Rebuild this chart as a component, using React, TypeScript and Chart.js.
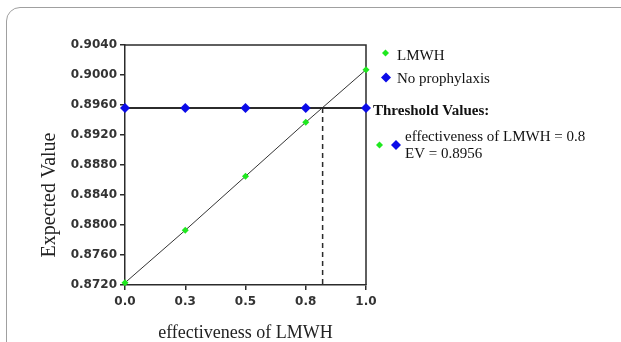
import React, { useEffect, useRef } from "react";
import { Chart, registerables } from "chart.js";

Chart.register(...registerables);

// ---- data ----
const effectiveness = [0, 0.25, 0.5, 0.75, 1.0];
const lmwhEV = [0.8723, 0.8793, 0.8865, 0.8937, 0.9007];
const noProphylaxisEV = [0.8956, 0.8956, 0.8956, 0.8956, 0.8956];
const thresholdEffectiveness = 0.82;
const thresholdEV = 0.8956;
const xTickValues = [0, 0.25, 0.5, 0.75, 1.0];
const xTickLabels = ["0.0", "0.3", "0.5", "0.8", "1.0"];
const yTickValues = [0.872, 0.876, 0.88, 0.884, 0.888, 0.892, 0.896, 0.9, 0.904];
const yTickLabels = ["0.8720", "0.8760", "0.8800", "0.8840", "0.8880", "0.8920", "0.8960", "0.9000", "0.9040"];
const seriesNames = ["LMWH", "No prophylaxis"];
const thresholdTitle = "Threshold Values:";
const thresholdLines = ["effectiveness of LMWH = 0.8", "EV = 0.8956"];
const xTitle = "effectiveness of LMWH";
const yTitle = "Expected Value";

const GREEN = "#1fe81f";
const BLUE = "#0b0be8";
const INK = "#2b2b2b";

function diamond(ctx: CanvasRenderingContext2D, x: number, y: number, r: number, color: string) {
  ctx.save();
  ctx.beginPath();
  ctx.moveTo(x, y - r);
  ctx.lineTo(x + r, y);
  ctx.lineTo(x, y + r);
  ctx.lineTo(x - r, y);
  ctx.closePath();
  ctx.fillStyle = color;
  ctx.fill();
  ctx.restore();
}

const framePlugin = {
  id: "frame",
  beforeDatasetsDraw(chart: any) {
    const ctx: CanvasRenderingContext2D = chart.ctx;
    const a = chart.chartArea;
    ctx.save();
    ctx.strokeStyle = INK;
    ctx.lineWidth = 1.5;
    ctx.beginPath();
    ctx.moveTo(a.left, a.top);
    ctx.lineTo(a.right, a.top);
    ctx.lineTo(a.right, a.bottom);
    ctx.stroke();
    ctx.restore();
  },
};

const decorPlugin = {
  id: "decor",
  afterDraw(chart: any) {
    const ctx: CanvasRenderingContext2D = chart.ctx;
    const a = chart.chartArea;
    ctx.save();
    // axis titles
    ctx.fillStyle = "#222";
    ctx.font = '18px "Liberation Serif"';
    ctx.textAlign = "center";
    ctx.textBaseline = "alphabetic";
    ctx.fillText(xTitle, (a.left + a.right) / 2, 338);

    ctx.save();
    ctx.translate(55, 195);
    ctx.rotate(-Math.PI / 2);
    ctx.font = '20px "Liberation Serif"';
    ctx.fillText(yTitle, 0, 0);
    ctx.restore();

    // legend
    ctx.textAlign = "left";
    ctx.font = '15px "Liberation Serif"';
    ctx.fillStyle = "#111";
    diamond(ctx, 385.5, 53, 3.5, GREEN);
    ctx.fillText(seriesNames[0], 397, 60);
    diamond(ctx, 386, 77.5, 5, BLUE);
    ctx.fillText(seriesNames[1], 397, 83);

    ctx.font = 'bold 15px "Liberation Serif"';
    ctx.fillText(thresholdTitle, 373, 115);

    diamond(ctx, 379.5, 145, 3.5, GREEN);
    diamond(ctx, 396, 145, 5, BLUE);
    ctx.font = '15px "Liberation Serif"';
    ctx.fillText(thresholdLines[0], 405, 141);
    ctx.fillText(thresholdLines[1], 405, 158);
    ctx.restore();
  },
};

export default function App() {
  const canvasRef = useRef<HTMLCanvasElement | null>(null);

  useEffect(() => {
    if (!canvasRef.current) return;
    const tickFont = { family: "DejaVu Sans", size: 12, weight: "bold" as const };
    const chart = new Chart(canvasRef.current, {
      type: "scatter",
      data: {
        datasets: [
          {
            label: seriesNames[1],
            data: effectiveness.map((x, i) => ({ x, y: noProphylaxisEV[i] })),
            showLine: true,
            clip: false,
            borderColor: INK,
            borderWidth: 2,
            pointStyle: "rectRot",
            pointRadius: 5,
            pointBackgroundColor: BLUE,
            pointBorderColor: BLUE,
            pointBorderWidth: 0,
          },
          {
            label: seriesNames[0],
            data: effectiveness.map((x, i) => ({ x, y: lmwhEV[i] })),
            showLine: true,
            clip: false,
            borderColor: "#333",
            borderWidth: 1,
            pointStyle: "rectRot",
            pointRadius: 3.5,
            pointBackgroundColor: GREEN,
            pointBorderColor: GREEN,
            pointBorderWidth: 0,
          },
          {
            label: "threshold",
            data: [
              { x: thresholdEffectiveness, y: thresholdEV },
              { x: thresholdEffectiveness, y: yTickValues[0] },
            ],
            showLine: true,
            borderColor: INK,
            borderWidth: 1.5,
            borderDash: [5, 4],
            pointRadius: 0,
          },
        ],
      },
      options: {
        animation: false,
        responsive: false,
        events: [],
        layout: { padding: { left: 0, top: 45, right: 255, bottom: 0 } },
        plugins: { legend: { display: false }, tooltip: { enabled: false } },
        scales: {
          x: {
            type: "linear",
            min: 0,
            max: 1,
            afterBuildTicks: (s: any) => {
              s.ticks = xTickValues.map((v) => ({ value: v }));
            },
            afterFit: (s: any) => {
              s.height = 57;
            },
            ticks: {
              callback: (_v: any, i: number) => xTickLabels[i],
              font: tickFont,
              color: "#333",
              padding: 5,
              maxRotation: 0,
              autoSkip: false,
            },
            grid: { display: true, drawOnChartArea: false, drawTicks: true, tickLength: 5, color: INK, lineWidth: 1.5 },
            border: { display: true, color: INK, width: 1.5 },
          },
          y: {
            type: "linear",
            min: yTickValues[0],
            max: yTickValues[yTickValues.length - 1],
            afterBuildTicks: (s: any) => {
              s.ticks = yTickValues.map((v) => ({ value: v }));
            },
            afterFit: (s: any) => {
              s.width = 125;
            },
            ticks: {
              callback: (_v: any, i: number) => yTickLabels[i],
              font: tickFont,
              color: "#333",
              padding: 3,
              autoSkip: false,
            },
            grid: { display: true, drawOnChartArea: false, drawTicks: true, tickLength: 5, color: INK, lineWidth: 1.5 },
            border: { display: true, color: INK, width: 1.5 },
          },
        },
      },
      plugins: [framePlugin, decorPlugin],
    } as any);
    return () => chart.destroy();
  }, []);

  return (
    <div
      style={{
        position: "fixed",
        left: 0,
        top: 0,
        width: 621,
        height: 342,
        overflow: "hidden",
        background: "#fff",
      }}
    >
      <div
        style={{
          position: "absolute",
          left: 6,
          top: 7,
          width: 700,
          height: 500,
          border: "1.5px solid #a0a0a0",
          borderRadius: 14,
          boxSizing: "border-box",
        }}
      />
      <canvas
        ref={canvasRef}
        width={621}
        height={342}
        style={{ position: "absolute", left: 0, top: 0, width: 621, height: 342 }}
      />
    </div>
  );
}
